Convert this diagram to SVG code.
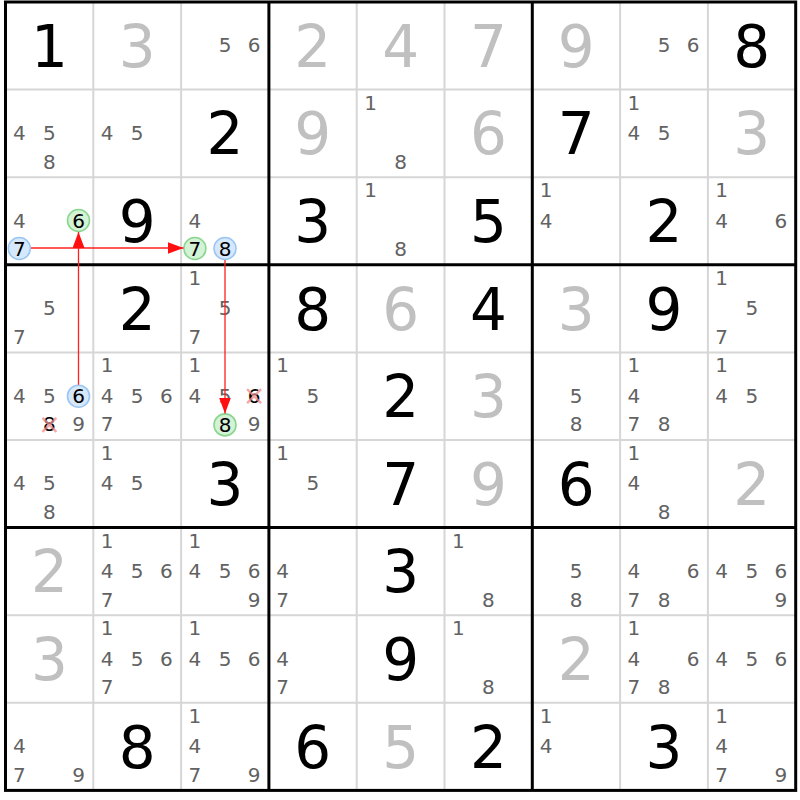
<svg xmlns="http://www.w3.org/2000/svg" width="800" height="800" viewBox="0 0 800 800">
<style>
text{font-family:"DejaVu Sans","Verdana",sans-serif;text-anchor:middle}
.b{font-size:58px;fill:#000}
.g{font-size:58px;fill:#c0c0c0}
.c{font-size:20px;fill:#626262}
.k{font-size:20px;fill:#000}
.thin{stroke:#d6d6d6;stroke-width:2}
.thick{stroke:#000;stroke-width:3}
.cb{fill:#d6e8fb;stroke:#9cc6f2;stroke-width:1.6}
.cg{fill:#d4f2d6;stroke:#8ad690;stroke-width:1.6}
.x{stroke:#f08a8a;stroke-width:2.4;opacity:0.75}
.arr{stroke:#ff2020;stroke-width:1.3;fill:none;marker-end:url(#ah)}
</style>
<defs>
<marker id="ah" viewBox="0 0 16 12" refX="16" refY="6" markerWidth="16" markerHeight="12" markerUnits="userSpaceOnUse" orient="auto">
<path d="M0,0 L16,6 L0,12 z" fill="#ff1010"/>
</marker>
</defs>
<rect x="0" y="0" width="800" height="800" fill="#fff"/>
<g id="grid">
<line class="thin" x1="93.3" y1="2" x2="93.3" y2="790.4"/>
<line class="thin" x1="181.1" y1="2" x2="181.1" y2="790.4"/>
<line class="thin" x1="356.7" y1="2" x2="356.7" y2="790.4"/>
<line class="thin" x1="444.5" y1="2" x2="444.5" y2="790.4"/>
<line class="thin" x1="620.1" y1="2" x2="620.1" y2="790.4"/>
<line class="thin" x1="707.9" y1="2" x2="707.9" y2="790.4"/>
<line class="thin" x1="5.5" y1="89.6" x2="795.7" y2="89.6"/>
<line class="thin" x1="5.5" y1="177.2" x2="795.7" y2="177.2"/>
<line class="thin" x1="5.5" y1="352.4" x2="795.7" y2="352.4"/>
<line class="thin" x1="5.5" y1="440" x2="795.7" y2="440"/>
<line class="thin" x1="5.5" y1="615.2" x2="795.7" y2="615.2"/>
<line class="thin" x1="5.5" y1="702.8" x2="795.7" y2="702.8"/>
<line class="thick" x1="268.9" y1="2" x2="268.9" y2="790.4"/>
<line class="thick" x1="532.3" y1="2" x2="532.3" y2="790.4"/>
<line class="thick" x1="5.5" y1="264.8" x2="795.7" y2="264.8"/>
<line class="thick" x1="5.5" y1="527.6" x2="795.7" y2="527.6"/>
<rect class="thick" x="5.5" y="2" width="790.2" height="788.4" fill="none"/>
</g>
<!-- Row 0 -->
<g id="r0c0"><text class="b" x="49.4" y="66.8">1</text></g>
<g id="r0c1"><text class="g" x="137.2" y="66.8">3</text></g>
<g id="r0c2"><text class="c" x="225" y="52.3">5</text><text class="c" x="254.1" y="52.3">6</text></g>
<g id="r0c3"><text class="g" x="312.8" y="66.8">2</text></g>
<g id="r0c4"><text class="g" x="400.6" y="66.8">4</text></g>
<g id="r0c5"><text class="g" x="488.4" y="66.8">7</text></g>
<g id="r0c6"><text class="g" x="576.2" y="66.8">9</text></g>
<g id="r0c7"><text class="c" x="664" y="52.3">5</text><text class="c" x="693.1" y="52.3">6</text></g>
<g id="r0c8"><text class="b" x="751.8" y="66.8">8</text></g>
<!-- Row 1 -->
<g id="r1c0"><text class="c" x="19.3" y="139.9">4</text><text class="c" x="49.4" y="139.9">5</text><text class="c" x="49.4" y="168.6">8</text></g>
<g id="r1c1"><text class="c" x="107.1" y="139.9">4</text><text class="c" x="137.2" y="139.9">5</text></g>
<g id="r1c2"><text class="b" x="225" y="154.4">2</text></g>
<g id="r1c3"><text class="g" x="312.8" y="154.4">9</text></g>
<g id="r1c4"><text class="c" x="370.5" y="109.6">1</text><text class="c" x="400.6" y="168.6">8</text></g>
<g id="r1c5"><text class="g" x="488.4" y="154.4">6</text></g>
<g id="r1c6"><text class="b" x="576.2" y="154.4">7</text></g>
<g id="r1c7"><text class="c" x="633.9" y="109.6">1</text><text class="c" x="633.9" y="139.9">4</text><text class="c" x="664" y="139.9">5</text></g>
<g id="r1c8"><text class="g" x="751.8" y="154.4">3</text></g>
<!-- Row 2 -->
<g id="r2c0"><text class="c" x="19.3" y="227.5">4</text>
<circle class="cg" cx="78.5" cy="220.5" r="11"/><text class="k" x="78.5" y="227.6">6</text>
<circle class="cb" cx="19.3" cy="248.5" r="11"/><text class="k" x="19.3" y="255.6">7</text></g>
<g id="r2c1"><text class="b" x="137.2" y="242">9</text></g>
<g id="r2c2"><text class="c" x="194.9" y="227.5">4</text>
<circle class="cg" cx="194.9" cy="248.5" r="11"/><text class="k" x="194.9" y="255.6">7</text>
<circle class="cb" cx="225" cy="248.5" r="11"/><text class="k" x="225" y="255.6">8</text></g>
<g id="r2c3"><text class="b" x="312.8" y="242">3</text></g>
<g id="r2c4"><text class="c" x="370.5" y="197.2">1</text><text class="c" x="400.6" y="256.2">8</text></g>
<g id="r2c5"><text class="b" x="488.4" y="242">5</text></g>
<g id="r2c6"><text class="c" x="546.1" y="197.2">1</text><text class="c" x="546.1" y="227.5">4</text></g>
<g id="r2c7"><text class="b" x="664" y="242">2</text></g>
<g id="r2c8"><text class="c" x="721.7" y="197.2">1</text><text class="c" x="721.7" y="227.5">4</text><text class="c" x="780.9" y="227.5">6</text></g>
<!-- Row 3 -->
<g id="r3c0"><text class="c" x="49.4" y="315.1">5</text><text class="c" x="19.3" y="343.8">7</text></g>
<g id="r3c1"><text class="b" x="137.2" y="329.6">2</text></g>
<g id="r3c2"><text class="c" x="194.9" y="284.8">1</text><text class="c" x="225" y="315.1">5</text><text class="c" x="194.9" y="343.8">7</text></g>
<g id="r3c3"><text class="b" x="312.8" y="329.6">8</text></g>
<g id="r3c4"><text class="g" x="400.6" y="329.6">6</text></g>
<g id="r3c5"><text class="b" x="488.4" y="329.6">4</text></g>
<g id="r3c6"><text class="g" x="576.2" y="329.6">3</text></g>
<g id="r3c7"><text class="b" x="664" y="329.6">9</text></g>
<g id="r3c8"><text class="c" x="721.7" y="284.8">1</text><text class="c" x="751.8" y="315.1">5</text><text class="c" x="721.7" y="343.8">7</text></g>
<!-- Row 4 -->
<g id="r4c0"><text class="c" x="19.3" y="402.7">4</text><text class="c" x="49.4" y="402.7">5</text>
<circle class="cb" cx="78.5" cy="396.2" r="11"/><text class="k" x="78.5" y="403.3">6</text>
<text class="k" x="49.4" y="431.4">8</text><path class="x" d="M42.4,417.9 L56.4,431.9 M56.4,417.9 L42.4,431.9"/>
<text class="c" x="78.5" y="431.4">9</text></g>
<g id="r4c1"><text class="c" x="107.1" y="372.4">1</text><text class="c" x="107.1" y="402.7">4</text><text class="c" x="137.2" y="402.7">5</text><text class="c" x="166.3" y="402.7">6</text><text class="c" x="107.1" y="431.4">7</text></g>
<g id="r4c2"><text class="c" x="194.9" y="372.4">1</text><text class="c" x="194.9" y="402.7">4</text><text class="c" x="225" y="402.7">5</text>
<text class="k" x="254.1" y="402.7">6</text><path class="x" d="M247.1,389.2 L261.1,403.2 M261.1,389.2 L247.1,403.2"/>
<circle class="cg" cx="225" cy="424.9" r="11"/><text class="k" x="225" y="432">8</text>
<text class="c" x="254.1" y="431.4">9</text></g>
<g id="r4c3"><text class="c" x="282.7" y="372.4">1</text><text class="c" x="312.8" y="402.7">5</text></g>
<g id="r4c4"><text class="b" x="400.6" y="417.2">2</text></g>
<g id="r4c5"><text class="g" x="488.4" y="417.2">3</text></g>
<g id="r4c6"><text class="c" x="576.2" y="402.7">5</text><text class="c" x="576.2" y="431.4">8</text></g>
<g id="r4c7"><text class="c" x="633.9" y="372.4">1</text><text class="c" x="633.9" y="402.7">4</text><text class="c" x="633.9" y="431.4">7</text><text class="c" x="664" y="431.4">8</text></g>
<g id="r4c8"><text class="c" x="721.7" y="372.4">1</text><text class="c" x="721.7" y="402.7">4</text><text class="c" x="751.8" y="402.7">5</text></g>
<!-- Row 5 -->
<g id="r5c0"><text class="c" x="19.3" y="490.3">4</text><text class="c" x="49.4" y="490.3">5</text><text class="c" x="49.4" y="519">8</text></g>
<g id="r5c1"><text class="c" x="107.1" y="460">1</text><text class="c" x="107.1" y="490.3">4</text><text class="c" x="137.2" y="490.3">5</text></g>
<g id="r5c2"><text class="b" x="225" y="504.8">3</text></g>
<g id="r5c3"><text class="c" x="282.7" y="460">1</text><text class="c" x="312.8" y="490.3">5</text></g>
<g id="r5c4"><text class="b" x="400.6" y="504.8">7</text></g>
<g id="r5c5"><text class="g" x="488.4" y="504.8">9</text></g>
<g id="r5c6"><text class="b" x="576.2" y="504.8">6</text></g>
<g id="r5c7"><text class="c" x="633.9" y="460">1</text><text class="c" x="633.9" y="490.3">4</text><text class="c" x="664" y="519">8</text></g>
<g id="r5c8"><text class="g" x="751.8" y="504.8">2</text></g>
<!-- Row 6 -->
<g id="r6c0"><text class="g" x="49.4" y="592.4">2</text></g>
<g id="r6c1"><text class="c" x="107.1" y="547.6">1</text><text class="c" x="107.1" y="577.9">4</text><text class="c" x="137.2" y="577.9">5</text><text class="c" x="166.3" y="577.9">6</text><text class="c" x="107.1" y="606.6">7</text></g>
<g id="r6c2"><text class="c" x="194.9" y="547.6">1</text><text class="c" x="194.9" y="577.9">4</text><text class="c" x="225" y="577.9">5</text><text class="c" x="254.1" y="577.9">6</text><text class="c" x="254.1" y="606.6">9</text></g>
<g id="r6c3"><text class="c" x="282.7" y="577.9">4</text><text class="c" x="282.7" y="606.6">7</text></g>
<g id="r6c4"><text class="b" x="400.6" y="592.4">3</text></g>
<g id="r6c5"><text class="c" x="458.3" y="547.6">1</text><text class="c" x="488.4" y="606.6">8</text></g>
<g id="r6c6"><text class="c" x="576.2" y="577.9">5</text><text class="c" x="576.2" y="606.6">8</text></g>
<g id="r6c7"><text class="c" x="633.9" y="577.9">4</text><text class="c" x="693.1" y="577.9">6</text><text class="c" x="633.9" y="606.6">7</text><text class="c" x="664" y="606.6">8</text></g>
<g id="r6c8"><text class="c" x="721.7" y="577.9">4</text><text class="c" x="751.8" y="577.9">5</text><text class="c" x="780.9" y="577.9">6</text><text class="c" x="780.9" y="606.6">9</text></g>
<!-- Row 7 -->
<g id="r7c0"><text class="g" x="49.4" y="680">3</text></g>
<g id="r7c1"><text class="c" x="107.1" y="635.2">1</text><text class="c" x="107.1" y="665.5">4</text><text class="c" x="137.2" y="665.5">5</text><text class="c" x="166.3" y="665.5">6</text><text class="c" x="107.1" y="694.2">7</text></g>
<g id="r7c2"><text class="c" x="194.9" y="635.2">1</text><text class="c" x="194.9" y="665.5">4</text><text class="c" x="225" y="665.5">5</text><text class="c" x="254.1" y="665.5">6</text></g>
<g id="r7c3"><text class="c" x="282.7" y="665.5">4</text><text class="c" x="282.7" y="694.2">7</text></g>
<g id="r7c4"><text class="b" x="400.6" y="680">9</text></g>
<g id="r7c5"><text class="c" x="458.3" y="635.2">1</text><text class="c" x="488.4" y="694.2">8</text></g>
<g id="r7c6"><text class="g" x="576.2" y="680">2</text></g>
<g id="r7c7"><text class="c" x="633.9" y="635.2">1</text><text class="c" x="633.9" y="665.5">4</text><text class="c" x="693.1" y="665.5">6</text><text class="c" x="633.9" y="694.2">7</text><text class="c" x="664" y="694.2">8</text></g>
<g id="r7c8"><text class="c" x="721.7" y="665.5">4</text><text class="c" x="751.8" y="665.5">5</text><text class="c" x="780.9" y="665.5">6</text></g>
<!-- Row 8 -->
<g id="r8c0"><text class="c" x="19.3" y="753.1">4</text><text class="c" x="19.3" y="781.8">7</text><text class="c" x="78.5" y="781.8">9</text></g>
<g id="r8c1"><text class="b" x="137.2" y="767.6">8</text></g>
<g id="r8c2"><text class="c" x="194.9" y="722.8">1</text><text class="c" x="194.9" y="753.1">4</text><text class="c" x="194.9" y="781.8">7</text><text class="c" x="254.1" y="781.8">9</text></g>
<g id="r8c3"><text class="b" x="312.8" y="767.6">6</text></g>
<g id="r8c4"><text class="g" x="400.6" y="767.6">5</text></g>
<g id="r8c5"><text class="b" x="488.4" y="767.6">2</text></g>
<g id="r8c6"><text class="c" x="546.1" y="722.8">1</text><text class="c" x="546.1" y="753.1">4</text></g>
<g id="r8c7"><text class="b" x="664" y="767.6">3</text></g>
<g id="r8c8"><text class="c" x="721.7" y="722.8">1</text><text class="c" x="721.7" y="753.1">4</text><text class="c" x="721.7" y="781.8">7</text><text class="c" x="780.9" y="781.8">9</text></g>
<g id="connectors">
<line class="arr" x1="31" y1="248" x2="183.5" y2="248"/>
<line class="arr" x1="78.5" y1="384.8" x2="78.5" y2="232"/>
<line class="arr" x1="225" y1="260" x2="225" y2="413.5"/>
</g>
</svg>
